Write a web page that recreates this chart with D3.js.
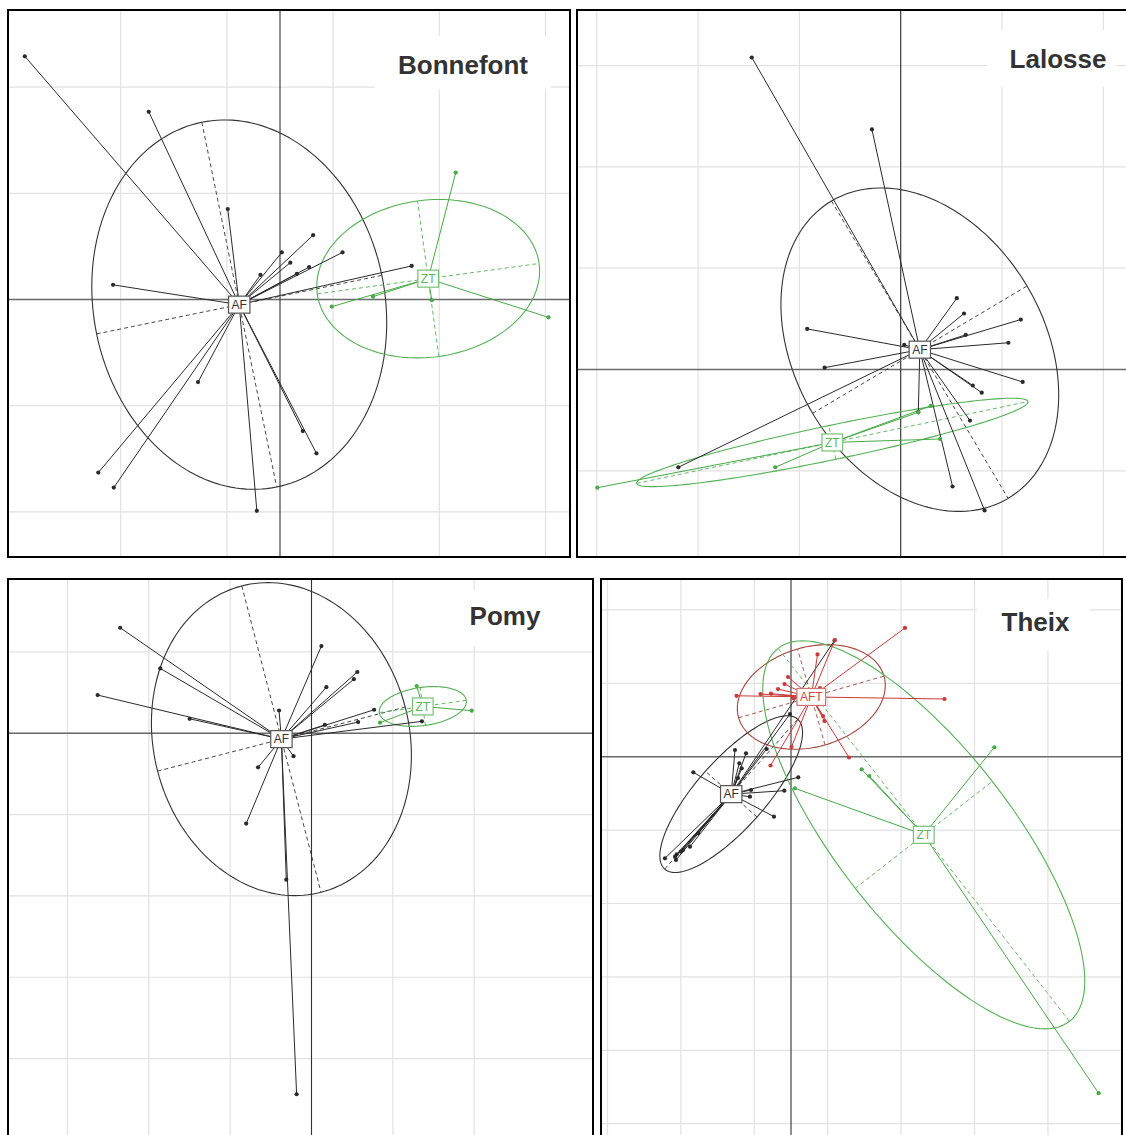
<!DOCTYPE html>
<html><head><meta charset="utf-8">
<script src="https://cdn.jsdelivr.net/npm/d3@7"></script>
<style>body{margin:0;background:#fff}svg{display:block}</style>
</head><body>
<svg id="chart" width="1126" height="1135"></svg>
<script>
// ---------------- DATA (factor-map coordinates, grid units) ----------------
const panelTitles = ["Bonnefont", "Lalosse", "Pomy", "Theix"];
const groupNames = ["AF", "ZT", "AFT"];

// Bonnefont
const bonnefontAF = [[-2.403,2.29],[-1.236,1.768],[-0.492,0.852],[0.312,0.606],[0.017,0.444],[0.589,0.444],
  [0.097,0.347],[0.274,0.306],[0.159,0.242],[-0.184,0.232],[1.24,0.316],[-1.572,0.138],[-0.772,-0.778],
  [0.215,-1.239],[0.343,-1.448],[-1.711,-1.63],[-1.565,-1.771],[-0.218,-1.99]];
const bonnefontZT = [[1.655,1.195],[0.488,-0.067],[0.876,0.027],[1.43,-0.007],[2.528,-0.168]];
const bonnefontAFEllipse = [1.753, 1.371, -78.4];   // semi-axis a, semi-axis b, angle of a (deg)
const bonnefontZTEllipse = [1.054, 0.739, 7.8];
const bonnefontGridX = [-1.5,-0.5,0.5,1.5,2.5];
const bonnefontGridY = [-2,-1,0,1,2];

// Lalosse
const lalosseAF = [[-1.47,3.08],[-0.284,2.37],[0.554,0.704],[0.625,0.553],[1.186,0.493],[0.642,0.342],
  [1.063,0.264],[-0.923,0.401],[0.035,0.243],[-0.751,0.018],[1.204,-0.123],[0.712,-0.158],[0.8,-0.229],
  [0.174,-0.42],[0.684,-0.504],[0.512,-1.155],[0.828,-1.391],[-2.195,-0.965]];
const lalosseZT = [[-2.995,-1.167],[-1.238,-0.965],[0.174,-0.4225],[0.296,-0.36],[0.388,-0.686]];
const lalosseAFEllipse = [1.707, 1.231, -59.3];
const lalosseZTEllipse = [1.973, 0.17, 11.8];
const lalosseGridX = [-3,-2,-1,0,1,2];
const lalosseGridY = [-1,0,1,2,3];

// Pomy
const pomyAF = [[-2.352,1.296],[-1.859,0.796],[-2.629,0.469],[-1.498,0.177],[-0.399,0.279],[0.122,1.071],
  [0.563,0.752],[0.521,0.664],[0.183,0.566],[0.164,0.102],[0.573,0.137],[0.77,0.288],[1.357,0.146],
  [-0.221,-0.283],[-0.657,-0.42],[-0.803,-1.111],[-0.31,-1.801],[-0.183,-4.438]];
const pomyZT = [[1.293,0.58],[1.969,0.277],[0.842,0.129]];
const pomyAFEllipse = [1.945, 1.572, -75.5];
const pomyZTEllipse = [0.54, 0.235, 8];
const pomyGridX = [-3,-2,-1,0,1,2];
const pomyGridY = [-4,-3,-2,-1,0,1];

// Theix
const theixAF = [[-0.763,0.091],[-0.613,0.046],[-0.704,-0.09],[-0.672,-0.158],[-0.331,0.105],[-1.331,-0.213],
  [0.099,-0.281],[-0.091,-0.463],[-0.545,-0.454],[-0.559,-0.545],[-0.232,-0.817],[-1.263,-1.044],
  [-1.376,-1.226],[-1.503,-1.294],[-1.557,-1.33],[-1.58,-1.362],[-1.567,-1.407],[-1.717,-1.384],
  [0.593,1.583],[-0.014,0.582],[-0.722,-0.29],[-1.471,-1.271]];
const theixAFT = [[1.553,1.754],[0.599,1.59],[0.361,1.393],[-0.041,1.086],[-0.088,0.99],[-0.177,0.922],
  [-0.272,0.858],[-0.415,0.853],[-0.742,0.83],[2.091,0.786],[0.395,0.936],[0.456,0.486],[0.436,0.554],
  [0.79,-0.011],[0.007,0.132],[-0.279,-0.12],[0.027,0.799]];
const theixZT = [[2.77,0.128],[0.963,-0.172],[1.067,-0.263],[0.054,-0.431],[4.191,-4.584]];
const theixAFEllipse = [1.365, 0.47, 48.4];
const theixAFTEllipse = [1.03, 0.68, 16];
const theixZTEllipse = [3.224, 1.184, -52];
const theixGridX = [-2.5,-1.5,-0.5,0.5,1.5,2.5,3.5,4.5];
const theixGridY = [-5,-4,-3,-2,-1,0,1,2];

// ---------------- LAYOUT & STYLE ----------------
const palette = {
  AF:  {line:"#2a2a2a", ell:"#333", text:"#333", box:"#555"},
  ZT:  {line:"#47a947", ell:"#55b055", text:"#5cb85c", box:"#78c078"},
  AFT: {line:"#c93a3a", ell:"#a3453d", text:"#d04545", box:"#d07070"}
};

const panels = [
  {title:panelTitles[0], rect:[8,10,570,557], origin:[280,299.5], unit:106.2,
   gridX:bonnefontGridX, gridY:bonnefontGridY, titleBox:[375,36,176,53], titlePos:[463,74],
   groups:[{name:groupNames[0], pts:bonnefontAF, ell:bonnefontAFEllipse},
           {name:groupNames[1], pts:bonnefontZT, ell:bonnefontZTEllipse}]},
  {title:panelTitles[1], rect:[577,10,1132,557], origin:[900.7,369.5], unit:101.3,
   gridX:lalosseGridX, gridY:lalosseGridY, titleBox:[987,30,129,57], titlePos:[1058,67.5],
   groups:[{name:groupNames[0], pts:lalosseAF, ell:lalosseAFEllipse},
           {name:groupNames[1], pts:lalosseZT, ell:lalosseZTEllipse}]},
  {title:panelTitles[2], rect:[8,579,593,1145], origin:[311.5,733.2], unit:81.35,
   gridX:pomyGridX, gridY:pomyGridY, titleBox:[464,590,125,56], titlePos:[505,624.5],
   groups:[{name:groupNames[0], pts:pomyAF, ell:pomyAFEllipse},
           {name:groupNames[1], pts:pomyZT, ell:pomyZTEllipse}]},
  {title:panelTitles[3], rect:[601,579,1122,1145], origin:[791,756.7], unit:73.4,
   gridX:theixGridX, gridY:theixGridY, titleBox:[977,599,113,52], titlePos:[1035.5,631],
   groups:[{name:groupNames[0], pts:theixAF, ell:theixAFEllipse},
           {name:groupNames[2], pts:theixAFT, ell:theixAFTEllipse},
           {name:groupNames[1], pts:theixZT, ell:theixZTEllipse}]}
];

const svg = d3.select("#chart");
svg.append("rect").attr("width",1126).attr("height",1135).attr("fill","#fff");

function ellipsePoints(c, e) {
  const [a, b, deg] = e, th = deg * Math.PI / 180;
  return d3.range(0, 361, 2).map(t => {
    const r = t * Math.PI / 180, px = a * Math.cos(r), py = b * Math.sin(r);
    return [c[0] + px*Math.cos(th) - py*Math.sin(th), c[1] + px*Math.sin(th) + py*Math.cos(th)];
  });
}

panels.forEach((p, i) => {
  const [x0, y0, x1, y1] = p.rect, [ox, oy] = p.origin, u = p.unit;
  const x = d3.scaleLinear().domain([(x0-ox)/u, (x1-ox)/u]).range([x0, x1]);
  const y = d3.scaleLinear().domain([(oy-y0)/u, (oy-y1)/u]).range([y0, y1]);

  const clipId = "clip" + i;
  svg.append("clipPath").attr("id", clipId).append("rect")
    .attr("x", x0).attr("y", y0).attr("width", x1-x0).attr("height", y1-y0);
  const g = svg.append("g").attr("clip-path", `url(#${clipId})`);

  // grid
  g.selectAll(".gx").data(p.gridX).join("line")
    .attr("x1", d => x(d)).attr("x2", d => x(d)).attr("y1", y0).attr("y2", y1)
    .attr("stroke", "#e2e2e2").attr("stroke-width", 1.2);
  g.selectAll(".gy").data(p.gridY).join("line")
    .attr("y1", d => y(d)).attr("y2", d => y(d)).attr("x1", x0).attr("x2", x1)
    .attr("stroke", "#e2e2e2").attr("stroke-width", 1.2);
  // axes
  g.append("line").attr("x1", x0).attr("x2", x1).attr("y1", y(0)).attr("y2", y(0))
    .attr("stroke", "#6a6a6a").attr("stroke-width", 1.6);
  g.append("line").attr("x1", x(0)).attr("x2", x(0)).attr("y1", y0).attr("y2", y1)
    .attr("stroke", "#333").attr("stroke-width", 1.1);

  const line = d3.line().x(d => x(d[0])).y(d => y(d[1]));

  p.groups.forEach(gr => {
    gr.center = [d3.mean(gr.pts, d => d[0]), d3.mean(gr.pts, d => d[1])];
  });

  // ellipses + dashed axes
  p.groups.forEach(gr => {
    const col = palette[gr.name];
    g.append("path").attr("d", line(ellipsePoints(gr.center, gr.ell)))
      .attr("fill", "none").attr("stroke", col.ell).attr("stroke-width", 1.1);
    const [a, b, deg] = gr.ell, th = deg*Math.PI/180, c = gr.center;
    const ax = [[c[0]-a*Math.cos(th), c[1]-a*Math.sin(th)], [c[0]+a*Math.cos(th), c[1]+a*Math.sin(th)]];
    const bx = [[c[0]+b*Math.sin(th), c[1]-b*Math.cos(th)], [c[0]-b*Math.sin(th), c[1]+b*Math.cos(th)]];
    [ax, bx].forEach(seg => g.append("path").attr("d", line(seg))
      .attr("fill", "none").attr("stroke", col.ell).attr("stroke-width", 0.9)
      .attr("stroke-dasharray", "4,3"));
  });

  // stars
  p.groups.forEach(gr => {
    const col = palette[gr.name];
    g.selectAll(null).data(gr.pts).join("line")
      .attr("x1", x(gr.center[0])).attr("y1", y(gr.center[1]))
      .attr("x2", d => x(d[0])).attr("y2", d => y(d[1]))
      .attr("stroke", col.line).attr("stroke-width", 1);
  });
  // points
  p.groups.forEach(gr => {
    const col = palette[gr.name];
    g.selectAll(null).data(gr.pts).join("circle")
      .attr("cx", d => x(d[0])).attr("cy", d => y(d[1])).attr("r", 2.1)
      .attr("fill", col.line);
  });
  // labels
  p.groups.forEach(gr => {
    const col = palette[gr.name];
    const lg = g.append("g").attr("transform", `translate(${x(gr.center[0])},${y(gr.center[1])})`);
    const r = lg.append("rect").attr("fill", "#fff").attr("stroke", col.box).attr("stroke-width", 1.2);
    const t = lg.append("text").text(gr.name).attr("text-anchor", "middle").attr("dy", "0.36em")
      .attr("font-family", "'Liberation Sans', Arial, sans-serif").attr("font-size", 12)
      .attr("fill", col.text);
    const w = t.node().getComputedTextLength() + 6;
    r.attr("x", -w/2).attr("y", -8.5).attr("width", w).attr("height", 17);
  });

  // title
  g.append("rect").attr("x", p.titleBox[0]).attr("y", p.titleBox[1])
    .attr("width", p.titleBox[2]).attr("height", p.titleBox[3]).attr("fill", "#fff");
  g.append("text").attr("x", p.titlePos[0]).attr("y", p.titlePos[1]).text(p.title)
    .attr("text-anchor", "middle").attr("font-family", "'Liberation Sans', Arial, sans-serif")
    .attr("font-weight", "bold").attr("font-size", 26).attr("fill", "#333");

  // border
  svg.append("rect").attr("x", x0).attr("y", y0).attr("width", x1-x0).attr("height", y1-y0)
    .attr("fill", "none").attr("stroke", "#000").attr("stroke-width", 2);
});
</script>
</body></html>
